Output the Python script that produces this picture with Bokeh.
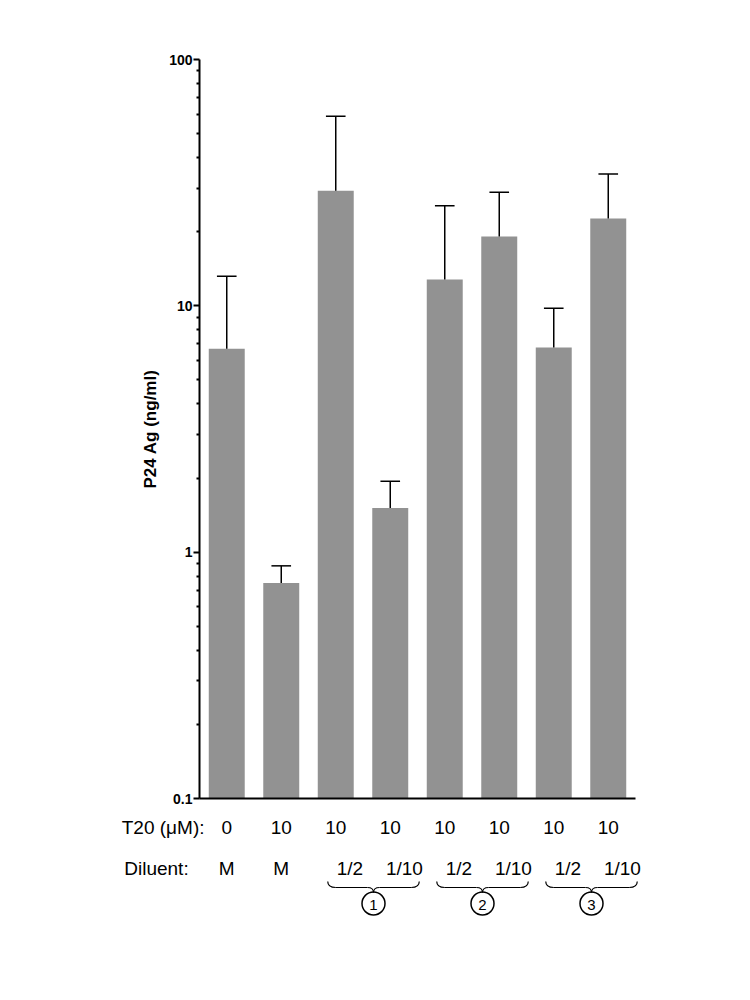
import numpy as np
from bokeh.plotting import figure
from bokeh.models import Range1d, FixedTicker, NumeralTickFormatter, ColumnDataSource
from bokeh.layouts import column
from bokeh.core.properties import value
from bokeh.embed import file_html
from bokeh.resources import INLINE

# ---------------- data ----------------
positions = [1, 2, 3, 4, 5, 6, 7, 8]
t20_labels = ["0", "10", "10", "10", "10", "10", "10", "10"]
diluent_labels = ["M", "M", "1/2", "1/10", "1/2", "1/10", "1/2", "1/10"]
p24_mean = [6.7, 0.75, 29.3, 1.51, 12.8, 19.1, 6.77, 22.6]
p24_sd = [6.5, 0.13, 29.5, 0.43, 12.7, 9.8, 3.0, 11.7]
group_names = ["1", "2", "3"]
group_first = [3, 5, 7]
group_second = [4, 6, 8]
row_headers = ["T20 (\u03bcM):", "Diluent:"]

FONT = "Liberation Sans"
PX = 54.5  # px per x unit
LEFT = 199
TOP = 59
FW, FH = 436, 739
RIGHT = 60
BOTB = 12
TOTAL_W = LEFT + FW + RIGHT

# ---------------- main chart ----------------
p = figure(
    width=TOTAL_W, height=TOP + FH + BOTB,
    frame_width=FW, frame_height=FH,
    x_range=Range1d(0.5, 0.5 + FW / PX), y_range=Range1d(0.1, 100),
    y_axis_type="log", output_backend="svg", toolbar_location=None,
    min_border_left=LEFT, min_border_top=TOP, min_border_right=RIGHT, min_border_bottom=BOTB,
)
p.outline_line_color = None
p.xgrid.grid_line_color = None
p.ygrid.grid_line_color = None
p.background_fill_color = "white"

src = ColumnDataSource(dict(
    x=positions, top=p24_mean,
    etop=[m + s for m, s in zip(p24_mean, p24_sd)],
    cl=[x - 0.18 for x in positions], cr=[x + 0.18 for x in positions],
))
p.vbar(x="x", top="top", bottom=0.1, width=0.66, source=src,
       fill_color="#929292", line_color=None)
p.segment(x0="x", y0="top", x1="x", y1="etop", source=src, line_color="black", line_width=1.5)
p.segment(x0="cl", y0="etop", x1="cr", y1="etop", source=src, line_color="black", line_width=1.5)

# y axis
majors = [0.1, 1, 10, 100]
minors = [m * d for d in [0.1, 1, 10] for m in range(2, 10)]
yax = p.yaxis[0]
yax.ticker = FixedTicker(ticks=majors, minor_ticks=minors)
yax.formatter = NumeralTickFormatter(format="0.[0]")
yax.axis_line_width = 2
yax.major_tick_line_width = 2
yax.minor_tick_line_width = 2
yax.major_tick_out = 6
yax.major_tick_in = 0
yax.minor_tick_out = 3
yax.minor_tick_in = 0
yax.major_label_standoff = 1
yax.major_label_text_font = FONT
yax.major_label_text_font_style = "bold"
yax.major_label_text_font_size = "14px"
yax.major_label_text_color = "black"
yax.axis_label = "P24 Ag (ng/ml)"
yax.axis_label_text_font = FONT
yax.axis_label_text_font_style = "bold"
yax.axis_label_text_font_size = "17px"
yax.axis_label_text_color = "black"
yax.axis_label_standoff = 6

xax = p.xaxis[0]
xax.ticker = FixedTicker(ticks=[])
xax.axis_line_width = 2
xax.major_tick_line_color = None
xax.minor_tick_line_color = None
xax.major_label_text_font_size = "0px"

# ---------------- label area below ----------------
BOT_TOP = TOP + FH + BOTB  # page y of the top of the lower figure
BH = 130
BFW = 480
q = figure(
    width=TOTAL_W, height=BH, frame_width=BFW, frame_height=BH,
    x_range=Range1d(0.5, 0.5 + BFW / PX), y_range=Range1d(BH, 0),
    output_backend="svg", toolbar_location=None,
    min_border_left=LEFT, min_border_right=TOTAL_W - LEFT - BFW, min_border_top=0, min_border_bottom=0,
)
q.xaxis.visible = False
q.grid.grid_line_color = None
q.outline_line_color = None

def py(page_y):
    return page_y - BOT_TOP

row1 = py(827)
row2 = py(868)

# row headers as tick labels of the lower figure's left axis
qy = q.yaxis[0]
qy.ticker = FixedTicker(ticks=[row1, row2], minor_ticks=[])
pad = "\u00a0" * 3
qy.major_label_overrides = {row1: row_headers[0], row2: row_headers[1] + pad}
qy.axis_line_color = None
qy.major_tick_line_color = None
qy.minor_tick_line_color = None
qy.major_label_standoff = -11
qy.major_label_text_font = FONT
qy.major_label_text_font_size = "19px"
qy.major_label_text_color = "black"

q.text(x=positions, y=[row1] * len(positions), text=t20_labels, text_align="center",
       text_baseline="middle", text_font=value(FONT), text_font_size="19px", text_color="black")
dil_x = [x + (0.0 if lab == "M" else 0.26) for x, lab in zip(positions, diluent_labels)]
q.text(x=dil_x, y=[row2] * len(positions), text=diluent_labels, text_align="center",
       text_baseline="middle", text_font=value(FONT), text_font_size="19px", text_color="black")

# braces and circled numbers
y_end, y_mid, y_tip = py(881), py(887), py(892)
cx_list = []
for a, b in zip(group_first, group_second):
    L = a - 8 / PX
    R = b + 29 / PX
    M = (L + R) / 2
    cx_list.append(M)
    d1 = 8 / PX
    d2 = 6 / PX
    q.quadratic(x0=[L, R], y0=[y_end, y_end], x1=[L + d1, R - d1], y1=[y_mid, y_mid],
                cx=[L, R], cy=[y_mid, y_mid], line_color="black", line_width=1.2)
    q.segment(x0=[L + d1, M + d2], y0=[y_mid, y_mid], x1=[M - d2, R - d1], y1=[y_mid, y_mid],
              line_color="black", line_width=1.2)
    q.quadratic(x0=[M - d2, M + d2], y0=[y_mid, y_mid], x1=[M, M], y1=[y_tip, y_tip],
                cx=[M, M], cy=[y_mid, y_mid], line_color="black", line_width=1.2)

cy = py(903)
q.scatter(x=cx_list, y=[cy] * 3, marker="circle", size=23, fill_color=None,
          line_color="black", line_width=1.5)
q.text(x=cx_list, y=[cy + 1] * 3, text=group_names, text_align="center", text_baseline="middle",
       text_font=value(FONT), text_font_size="15px", text_color="black")

layout = column(p, q)
open("out.html", "w").write(file_html(layout, INLINE))
